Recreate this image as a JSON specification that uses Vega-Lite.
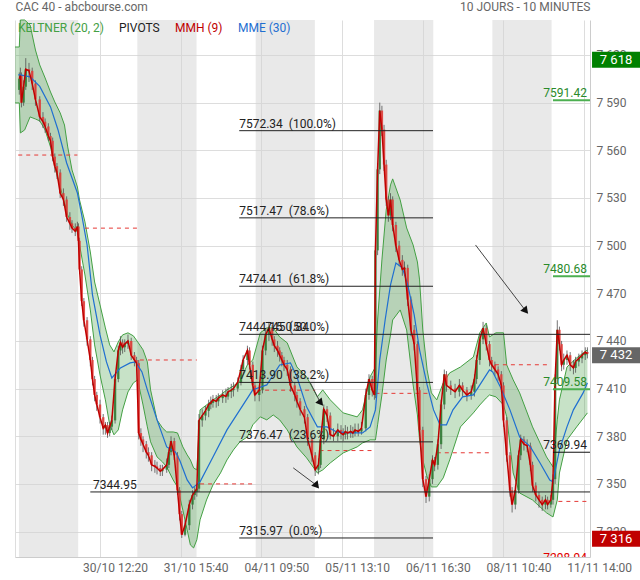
{
  "$schema": "https://vega.github.io/schema/vega-lite/v6.json",
  "width": 575,
  "height": 537,
  "autosize": "none",
  "padding": {"left": 15, "top": 20, "right": 50, "bottom": 23},
  "background": "#ffffff",
  "config": {"view": {"stroke": null}, "font": "Roboto"},
  "datasets": {
    "days": [{"n1":-0.3,"n2":54.7},{"n1":109.7,"n2":164.7},{"n1":219.7,"n2":274.7},{"n1":329.7,"n2":384.7},{"n1":439.7,"n2":494.7}],
    "band": [
      {"n":-4,"ku":7625.0,"kl":7589.8},{"n":0,"ku":7625.0,"kl":7589.8},{"n":1,"ku":7642.0,"kl":7570.9},{"n":5,"ku":7642.0,"kl":7572.8},
      {"n":10,"ku":7638.9,"kl":7581.0},{"n":15,"ku":7623.1,"kl":7579.7},{"n":19,"ku":7613.7,"kl":7578.5},{"n":24,"ku":7605.5,"kl":7572.8},
      {"n":29,"ku":7596.7,"kl":7562.1},{"n":33,"ku":7590.4,"kl":7549.5},{"n":38,"ku":7583.5,"kl":7536.9},{"n":42,"ku":7575.9,"kl":7526.9},
      {"n":45,"ku":7562.1,"kl":7519.3},{"n":49,"ku":7547.6,"kl":7513.0},{"n":54,"ku":7536.9,"kl":7508.6},{"n":56,"ku":7528.7,"kl":7500.4},
      {"n":61,"ku":7514.9,"kl":7481.5},{"n":66,"ku":7496.0,"kl":7459.5},{"n":70,"ku":7477.1,"kl":7437.5},{"n":75,"ku":7462.7,"kl":7418.6},
      {"n":80,"ku":7448.2,"kl":7402.9},{"n":84,"ku":7437.5,"kl":7387.2},{"n":88,"ku":7433.1,"kl":7380.9},{"n":92,"ku":7439.4,"kl":7384.0},
      {"n":96,"ku":7443.8,"kl":7396.6},{"n":101,"ku":7445.1,"kl":7407.9},{"n":106,"ku":7443.2,"kl":7413.6},{"n":110,"ku":7439.4,"kl":7415.5},
      {"n":115,"ku":7434.4,"kl":7399.7},{"n":119,"ku":7426.8,"kl":7385.9},{"n":122,"ku":7409.2,"kl":7376.5},{"n":128,"ku":7390.3,"kl":7367.0},
      {"n":133,"ku":7385.3,"kl":7363.9},{"n":137,"ku":7382.7,"kl":7360.7},{"n":143,"ku":7382.7,"kl":7352.5},{"n":147,"ku":7382.1,"kl":7348.1},
      {"n":152,"ku":7373.3,"kl":7333.5},{"n":156,"ku":7368.3,"kl":7321.1},{"n":159,"ku":7365.1,"kl":7311.6},{"n":162,"ku":7360.1,"kl":7309.7},
      {"n":165,"ku":7358.8,"kl":7314.8},{"n":168,"ku":7396.6,"kl":7327.4},{"n":174,"ku":7399.7,"kl":7339.9},{"n":180,"ku":7402.9,"kl":7349.4},
      {"n":187,"ku":7406.0,"kl":7356.9},{"n":193,"ku":7409.2,"kl":7365.1},{"n":199,"ku":7411.7,"kl":7371.4},{"n":205,"ku":7414.8,"kl":7376.5},
      {"n":212,"ku":7425.0,"kl":7379.6},{"n":217,"ku":7428.0,"kl":7387.2},{"n":224,"ku":7445.1,"kl":7392.2},{"n":230,"ku":7448.2,"kl":7390.3},
      {"n":236,"ku":7448.2,"kl":7393.4},{"n":242,"ku":7442.5,"kl":7390.3},{"n":249,"ku":7438.8,"kl":7384.0},{"n":258,"ku":7423.6,"kl":7373.3},
      {"n":267,"ku":7417.4,"kl":7366.4},{"n":277,"ku":7404.8,"kl":7356.9},{"n":282,"ku":7409.2,"kl":7358.8},{"n":289,"ku":7402.9,"kl":7363.2},
      {"n":301,"ku":7394.7,"kl":7369.5},{"n":314,"ku":7392.2,"kl":7373.3},{"n":319,"ku":7396.6,"kl":7375.8},{"n":326,"ku":7417.4,"kl":7377.7},
      {"n":331,"ku":7423.6,"kl":7377.7},{"n":333,"ku":7453.2,"kl":7387.2},{"n":337,"ku":7491.0,"kl":7406.0},{"n":341,"ku":7522.5,"kl":7428.0},
      {"n":345,"ku":7538.2,"kl":7443.8},{"n":347,"ku":7542.0,"kl":7453.2},{"n":354,"ku":7528.7,"kl":7459.5},{"n":360,"ku":7511.1,"kl":7446.9},
      {"n":366,"ku":7500.4,"kl":7412.3},{"n":370,"ku":7489.7,"kl":7393.4},{"n":372,"ku":7478.4,"kl":7377.7},{"n":375,"ku":7446.9,"kl":7365.1},
      {"n":379,"ku":7421.8,"kl":7354.4},{"n":383,"ku":7407.3,"kl":7348.1},{"n":388,"ku":7402.9,"kl":7348.1},{"n":394,"ku":7413.6,"kl":7353.8},
      {"n":400,"ku":7419.9,"kl":7365.1},{"n":410,"ku":7423.6,"kl":7385.9},{"n":422,"ku":7429.9,"kl":7394.7},{"n":428,"ku":7445.1,"kl":7399.7},
      {"n":434,"ku":7451.3,"kl":7404.1},{"n":437,"ku":7442.5,"kl":7406.0},{"n":443,"ku":7445.1,"kl":7404.8},{"n":450,"ku":7445.1,"kl":7399.7},
      {"n":453,"ku":7424.9,"kl":7392.2},{"n":459,"ku":7415.5,"kl":7356.9},{"n":465,"ku":7407.3,"kl":7344.3},{"n":477,"ku":7385.9,"kl":7339.9},
      {"n":490,"ku":7367.0,"kl":7331.8},{"n":496,"ku":7360.7,"kl":7329.2},{"n":500,"ku":7390.3,"kl":7339.9},{"n":502,"ku":7402.9,"kl":7356.9},
      {"n":509,"ku":7423.6,"kl":7377.7},{"n":518,"ku":7429.3,"kl":7385.9},{"n":528,"ku":7434.4,"kl":7394.7}
    ],
    "mme": [
      {"n":-1,"e":7607.4},{"n":1,"e":7607.4},{"n":10,"e":7606.2},{"n":19,"e":7600.2},{"n":29,"e":7587.3},{"n":36,"e":7572.8},{"n":44,"e":7552.0},
      {"n":54,"e":7533.1},{"n":58,"e":7519.3},{"n":63,"e":7500.4},{"n":68,"e":7469.0},{"n":75,"e":7443.8},{"n":81,"e":7426.8},{"n":86,"e":7416.7},
      {"n":94,"e":7423.0},{"n":103,"e":7426.2},{"n":108,"e":7426.8},{"n":114,"e":7420.5},{"n":119,"e":7409.2},{"n":128,"e":7390.3},{"n":137,"e":7373.3},
      {"n":145,"e":7370.2},{"n":149,"e":7365.1},{"n":156,"e":7352.5},{"n":161,"e":7347.5},{"n":168,"e":7351.3},{"n":180,"e":7367.0},{"n":193,"e":7384.0},
      {"n":205,"e":7396.6},{"n":217,"e":7409.2},{"n":230,"e":7412.3},{"n":242,"e":7424.9},{"n":252,"e":7426.2},{"n":258,"e":7417.4},{"n":267,"e":7398.5},
      {"n":277,"e":7385.9},{"n":286,"e":7385.9},{"n":295,"e":7382.7},{"n":307,"e":7382.1},{"n":319,"e":7382.1},{"n":326,"e":7385.9},{"n":331,"e":7396.6},
      {"n":335,"e":7428.0},{"n":340,"e":7453.2},{"n":345,"e":7475.3},{"n":350,"e":7489.1},{"n":356,"e":7486.0},{"n":361,"e":7475.3},{"n":367,"e":7456.4},
      {"n":372,"e":7434.4},{"n":379,"e":7412.3},{"n":385,"e":7396.6},{"n":391,"e":7387.2},{"n":397,"e":7387.2},{"n":403,"e":7396.6},{"n":412,"e":7404.8},
      {"n":422,"e":7406.0},{"n":431,"e":7415.5},{"n":437,"e":7421.8},{"n":440,"e":7420.5},{"n":447,"e":7411.1},{"n":456,"e":7396.6},{"n":465,"e":7379.6},
      {"n":475,"e":7373.3},{"n":484,"e":7363.2},{"n":493,"e":7352.5},{"n":496,"e":7351.3},{"n":502,"e":7371.4},{"n":509,"e":7385.9},{"n":515,"e":7396.6},
      {"n":524,"e":7407.3},{"n":528,"e":7413.6}
    ],
    "candles": [
      {"n":0,"o":7598,"h":7609,"l":7595,"c":7605},{"n":1,"o":7605,"h":7612,"l":7600,"c":7607},{"n":2,"o":7607,"h":7609,"l":7587,"c":7590},
      {"n":4,"o":7590,"h":7604,"l":7588,"c":7600},{"n":6,"o":7600,"h":7618,"l":7598,"c":7611},{"n":9,"o":7611,"h":7615,"l":7603,"c":7610},
      {"n":12,"o":7610,"h":7612,"l":7598,"c":7602},{"n":15,"o":7602,"h":7604,"l":7588,"c":7592},{"n":19,"o":7592,"h":7594,"l":7578,"c":7581},
      {"n":22,"o":7581,"h":7584,"l":7574,"c":7578},{"n":24,"o":7578,"h":7580,"l":7571,"c":7575},{"n":27,"o":7575,"h":7577,"l":7566,"c":7569},
      {"n":29,"o":7569,"h":7571,"l":7562,"c":7566},{"n":31,"o":7566,"h":7568,"l":7553,"c":7556},{"n":33,"o":7556,"h":7558,"l":7546,"c":7550},
      {"n":35,"o":7550,"h":7552,"l":7542,"c":7546},{"n":38,"o":7546,"h":7548,"l":7530,"c":7533},{"n":41,"o":7533,"h":7536,"l":7525,"c":7529},
      {"n":44,"o":7529,"h":7531,"l":7515,"c":7518},{"n":47,"o":7518,"h":7521,"l":7510,"c":7514},{"n":49,"o":7514,"h":7516,"l":7508,"c":7511},
      {"n":52,"o":7511,"h":7514,"l":7506,"c":7509},{"n":54,"o":7509,"h":7515,"l":7507,"c":7512},{"n":55,"o":7512,"h":7514,"l":7500,"c":7503},
      {"n":56,"o":7503,"h":7505,"l":7482,"c":7485},{"n":58,"o":7485,"h":7487,"l":7462,"c":7465},{"n":60,"o":7465,"h":7467,"l":7449,"c":7453},
      {"n":63,"o":7453,"h":7455,"l":7437,"c":7441},{"n":66,"o":7441,"h":7443,"l":7424,"c":7428},{"n":68,"o":7428,"h":7430,"l":7412,"c":7416},
      {"n":70,"o":7416,"h":7418,"l":7402,"c":7406},{"n":72,"o":7406,"h":7408,"l":7396,"c":7400},{"n":75,"o":7400,"h":7403,"l":7388,"c":7392},
      {"n":78,"o":7392,"h":7394,"l":7381,"c":7385},{"n":80,"o":7385,"h":7389,"l":7381,"c":7387},{"n":82,"o":7387,"h":7389,"l":7379,"c":7382},
      {"n":84,"o":7382,"h":7389,"l":7380,"c":7386},{"n":86,"o":7386,"h":7393,"l":7384,"c":7390},{"n":89,"o":7390,"h":7419,"l":7388,"c":7416},
      {"n":92,"o":7416,"h":7437,"l":7414,"c":7434},{"n":94,"o":7434,"h":7443,"l":7431,"c":7439},{"n":96,"o":7439,"h":7441,"l":7432,"c":7436},
      {"n":98,"o":7436,"h":7441,"l":7433,"c":7438},{"n":101,"o":7438,"h":7444,"l":7435,"c":7440},{"n":104,"o":7440,"h":7442,"l":7428,"c":7431},
      {"n":107,"o":7431,"h":7433,"l":7424,"c":7428},{"n":109,"o":7428,"h":7430,"l":7423,"c":7426},{"n":111,"o":7426,"h":7428,"l":7378,"c":7382},
      {"n":113,"o":7382,"h":7385,"l":7374,"c":7378},{"n":115,"o":7378,"h":7380,"l":7370,"c":7375},{"n":118,"o":7375,"h":7377,"l":7366,"c":7370},
      {"n":120,"o":7370,"h":7373,"l":7364,"c":7368},{"n":123,"o":7368,"h":7370,"l":7358,"c":7362},{"n":126,"o":7362,"h":7365,"l":7357,"c":7361},
      {"n":128,"o":7361,"h":7364,"l":7356,"c":7360},{"n":131,"o":7360,"h":7362,"l":7355,"c":7358},{"n":133,"o":7358,"h":7362,"l":7355,"c":7359},
      {"n":137,"o":7359,"h":7366,"l":7357,"c":7362},{"n":139,"o":7362,"h":7373,"l":7360,"c":7370},{"n":141,"o":7370,"h":7380,"l":7368,"c":7377},
      {"n":144,"o":7377,"h":7379,"l":7365,"c":7368},{"n":147,"o":7368,"h":7370,"l":7343,"c":7346},{"n":149,"o":7346,"h":7348,"l":7327,"c":7331},
      {"n":151,"o":7331,"h":7333,"l":7316,"c":7318},{"n":154,"o":7318,"h":7327,"l":7317,"c":7324},{"n":158,"o":7324,"h":7340,"l":7321,"c":7337},
      {"n":161,"o":7337,"h":7346,"l":7334,"c":7343},{"n":163,"o":7343,"h":7348,"l":7340,"c":7345},{"n":165,"o":7345,"h":7350,"l":7342,"c":7347},
      {"n":167,"o":7347,"h":7394,"l":7345,"c":7390},{"n":170,"o":7390,"h":7397,"l":7386,"c":7393},{"n":173,"o":7393,"h":7399,"l":7390,"c":7396},
      {"n":176,"o":7396,"h":7403,"l":7392,"c":7400},{"n":178,"o":7400,"h":7405,"l":7397,"c":7401},{"n":180,"o":7401,"h":7406,"l":7398,"c":7403},
      {"n":183,"o":7403,"h":7406,"l":7398,"c":7402},{"n":185,"o":7402,"h":7407,"l":7399,"c":7404},{"n":189,"o":7404,"h":7409,"l":7401,"c":7406},
      {"n":192,"o":7406,"h":7410,"l":7401,"c":7405},{"n":194,"o":7405,"h":7411,"l":7403,"c":7408},{"n":197,"o":7408,"h":7413,"l":7404,"c":7409},
      {"n":199,"o":7409,"h":7414,"l":7405,"c":7410},{"n":203,"o":7410,"h":7417,"l":7408,"c":7414},{"n":206,"o":7414,"h":7425,"l":7412,"c":7422},
      {"n":208,"o":7422,"h":7431,"l":7419,"c":7428},{"n":212,"o":7428,"h":7437,"l":7425,"c":7434},{"n":214,"o":7434,"h":7436,"l":7422,"c":7425},
      {"n":217,"o":7425,"h":7427,"l":7409,"c":7412},{"n":219,"o":7412,"h":7414,"l":7402,"c":7406},{"n":223,"o":7406,"h":7412,"l":7402,"c":7409},
      {"n":226,"o":7409,"h":7437,"l":7407,"c":7434},{"n":229,"o":7434,"h":7448,"l":7431,"c":7444},{"n":232,"o":7444,"h":7452,"l":7440,"c":7448},
      {"n":235,"o":7448,"h":7450,"l":7437,"c":7441},{"n":237,"o":7441,"h":7443,"l":7433,"c":7437},{"n":240,"o":7437,"h":7440,"l":7430,"c":7434},
      {"n":242,"o":7434,"h":7436,"l":7427,"c":7431},{"n":244,"o":7431,"h":7433,"l":7424,"c":7428},{"n":246,"o":7428,"h":7430,"l":7421,"c":7425},
      {"n":249,"o":7425,"h":7428,"l":7418,"c":7422},{"n":252,"o":7422,"h":7424,"l":7408,"c":7412},{"n":256,"o":7412,"h":7414,"l":7402,"c":7406},
      {"n":258,"o":7406,"h":7408,"l":7398,"c":7402},{"n":261,"o":7402,"h":7404,"l":7393,"c":7397},{"n":265,"o":7397,"h":7399,"l":7388,"c":7392},
      {"n":268,"o":7392,"h":7394,"l":7374,"c":7378},{"n":272,"o":7378,"h":7380,"l":7364,"c":7368},{"n":275,"o":7368,"h":7370,"l":7355,"c":7359},
      {"n":278,"o":7359,"h":7366,"l":7356,"c":7362},{"n":280,"o":7362,"h":7381,"l":7360,"c":7378},{"n":283,"o":7378,"h":7400,"l":7375,"c":7397},
      {"n":286,"o":7397,"h":7399,"l":7389,"c":7393},{"n":289,"o":7393,"h":7395,"l":7378,"c":7381},{"n":292,"o":7381,"h":7385,"l":7377,"c":7380},
      {"n":296,"o":7380,"h":7388,"l":7377,"c":7384},{"n":299,"o":7384,"h":7387,"l":7378,"c":7382},{"n":301,"o":7382,"h":7385,"l":7377,"c":7381},
      {"n":303,"o":7381,"h":7387,"l":7378,"c":7383},{"n":305,"o":7383,"h":7386,"l":7378,"c":7382},{"n":308,"o":7382,"h":7387,"l":7379,"c":7383},
      {"n":310,"o":7383,"h":7386,"l":7379,"c":7382},{"n":312,"o":7382,"h":7388,"l":7380,"c":7384},{"n":315,"o":7384,"h":7388,"l":7380,"c":7383},
      {"n":318,"o":7383,"h":7389,"l":7381,"c":7385},{"n":322,"o":7385,"h":7410,"l":7383,"c":7406},{"n":325,"o":7406,"h":7419,"l":7403,"c":7416},
      {"n":328,"o":7416,"h":7418,"l":7405,"c":7409},{"n":330,"o":7409,"h":7411,"l":7403,"c":7406},{"n":331,"o":7406,"h":7500,"l":7404,"c":7497},
      {"n":333,"o":7497,"h":7552,"l":7494,"c":7548},{"n":335,"o":7548,"h":7590,"l":7545,"c":7585},{"n":337,"o":7585,"h":7588,"l":7569,"c":7573},
      {"n":339,"o":7573,"h":7576,"l":7547,"c":7551},{"n":341,"o":7551,"h":7554,"l":7525,"c":7529},{"n":343,"o":7529,"h":7531,"l":7515,"c":7519},
      {"n":345,"o":7519,"h":7533,"l":7516,"c":7529},{"n":347,"o":7529,"h":7531,"l":7509,"c":7513},{"n":350,"o":7513,"h":7515,"l":7496,"c":7500},
      {"n":353,"o":7500,"h":7503,"l":7487,"c":7491},{"n":356,"o":7491,"h":7494,"l":7481,"c":7485},{"n":358,"o":7485,"h":7490,"l":7481,"c":7486},
      {"n":361,"o":7486,"h":7488,"l":7462,"c":7466},{"n":364,"o":7466,"h":7468,"l":7443,"c":7447},{"n":367,"o":7447,"h":7450,"l":7434,"c":7438},
      {"n":370,"o":7438,"h":7440,"l":7405,"c":7409},{"n":372,"o":7409,"h":7411,"l":7380,"c":7384},{"n":375,"o":7384,"h":7386,"l":7348,"c":7353},
      {"n":378,"o":7353,"h":7355,"l":7338,"c":7342},{"n":381,"o":7342,"h":7356,"l":7339,"c":7353},{"n":384,"o":7353,"h":7368,"l":7350,"c":7365},
      {"n":386,"o":7365,"h":7367,"l":7358,"c":7362},{"n":389,"o":7362,"h":7378,"l":7359,"c":7375},{"n":392,"o":7375,"h":7403,"l":7372,"c":7400},
      {"n":395,"o":7400,"h":7422,"l":7397,"c":7419},{"n":397,"o":7419,"h":7421,"l":7408,"c":7412},{"n":401,"o":7412,"h":7415,"l":7406,"c":7410},
      {"n":405,"o":7410,"h":7413,"l":7404,"c":7408},{"n":409,"o":7408,"h":7416,"l":7405,"c":7412},{"n":412,"o":7412,"h":7414,"l":7405,"c":7409},
      {"n":416,"o":7409,"h":7411,"l":7402,"c":7406},{"n":420,"o":7406,"h":7412,"l":7403,"c":7408},{"n":423,"o":7408,"h":7419,"l":7405,"c":7416},
      {"n":425,"o":7416,"h":7431,"l":7413,"c":7428},{"n":428,"o":7428,"h":7444,"l":7425,"c":7441},{"n":431,"o":7441,"h":7452,"l":7438,"c":7448},
      {"n":434,"o":7448,"h":7450,"l":7434,"c":7438},{"n":437,"o":7438,"h":7440,"l":7424,"c":7428},{"n":439,"o":7428,"h":7430,"l":7421,"c":7425},
      {"n":442,"o":7425,"h":7427,"l":7418,"c":7422},{"n":445,"o":7422,"h":7424,"l":7415,"c":7419},{"n":448,"o":7419,"h":7421,"l":7408,"c":7412},
      {"n":450,"o":7412,"h":7414,"l":7386,"c":7390},{"n":453,"o":7390,"h":7392,"l":7364,"c":7368},{"n":456,"o":7368,"h":7370,"l":7342,"c":7346},
      {"n":458,"o":7346,"h":7348,"l":7332,"c":7337},{"n":461,"o":7337,"h":7349,"l":7334,"c":7346},{"n":464,"o":7346,"h":7371,"l":7344,"c":7368},
      {"n":466,"o":7368,"h":7381,"l":7365,"c":7378},{"n":469,"o":7378,"h":7380,"l":7371,"c":7375},{"n":472,"o":7375,"h":7378,"l":7370,"c":7374},
      {"n":475,"o":7374,"h":7376,"l":7358,"c":7362},{"n":477,"o":7362,"h":7364,"l":7345,"c":7349},{"n":480,"o":7349,"h":7351,"l":7339,"c":7343},
      {"n":483,"o":7343,"h":7345,"l":7335,"c":7340},{"n":486,"o":7340,"h":7342,"l":7333,"c":7337},{"n":489,"o":7337,"h":7343,"l":7334,"c":7340},
      {"n":491,"o":7340,"h":7342,"l":7334,"c":7337},{"n":494,"o":7337,"h":7343,"l":7335,"c":7340},{"n":496,"o":7340,"h":7356,"l":7337,"c":7353},
      {"n":498,"o":7353,"h":7419,"l":7350,"c":7416},{"n":500,"o":7416,"h":7453,"l":7413,"c":7447},{"n":502,"o":7447,"h":7449,"l":7434,"c":7438},
      {"n":504,"o":7438,"h":7440,"l":7421,"c":7425},{"n":506,"o":7425,"h":7432,"l":7422,"c":7428},{"n":509,"o":7428,"h":7434,"l":7425,"c":7431},
      {"n":512,"o":7431,"h":7433,"l":7421,"c":7425},{"n":515,"o":7425,"h":7428,"l":7419,"c":7423},{"n":517,"o":7423,"h":7430,"l":7420,"c":7427},
      {"n":520,"o":7427,"h":7432,"l":7424,"c":7429},{"n":523,"o":7429,"h":7434,"l":7426,"c":7431},{"n":526,"o":7431,"h":7436,"l":7428,"c":7433},
      {"n":528,"o":7433,"h":7436,"l":7429,"c":7432}
    ],
    "prev": [
      {"n1":-1,"n2":54,"p":7557},{"n1":61,"n2":110,"p":7511},{"n1":112,"n2":165,"p":7428},{"n1":168,"n2":219,"p":7350},
      {"n1":221,"n2":275,"p":7409},{"n1":279,"n2":330,"p":7371},{"n1":331,"n2":382,"p":7407},{"n1":388,"n2":439,"p":7369.6},
      {"n1":442,"n2":493,"p":7425},{"n1":501,"n2":528,"p":7339}
    ],
    "fib": [
      {"n1":204.4,"n2":384.5,"p":7572.34},{"n1":204.4,"n2":384.5,"p":7517.47},{"n1":204.4,"n2":384.5,"p":7474.41},
      {"n1":204.4,"n2":530.4,"p":7444.15},{"n1":204.4,"n2":384.5,"p":7413.90},{"n1":204.4,"n2":384.5,"p":7376.47},
      {"n1":204.4,"n2":384.5,"p":7315.97},{"n1":66,"n2":530.4,"p":7344.95}
    ],
    "fibtext": [
      {"n":204.4,"p":7572.34,"t":"7572.34\u00a0\u00a0(100.0%)"},{"n":204.4,"p":7517.47,"t":"7517.47\u00a0\u00a0(78.6%)"},
      {"n":204.4,"p":7474.41,"t":"7474.41\u00a0\u00a0(61.8%)"},{"n":204.4,"p":7444.15,"t":"7444.15\u00a0\u00a0(50.0%)"},
      {"n":228.6,"p":7444.15,"t":"7450.84"},{"n":204.4,"p":7413.90,"t":"7413.90\u00a0\u00a0(38.2%)"},
      {"n":204.4,"p":7376.47,"t":"7376.47\u00a0\u00a0(23.6%)"},{"n":204.4,"p":7315.97,"t":"7315.97\u00a0\u00a0(0.0%)"},
      {"n":68.5,"p":7344.95,"t":"7344.95"}
    ],
    "piv": [
      {"n1":496,"n2":530.4,"p":7591.42,"k":"g","t":"7591.42"},{"n1":496,"n2":530.4,"p":7480.68,"k":"g","t":"7480.68"},
      {"n1":496,"n2":530.4,"p":7409.58,"k":"g","t":"7409.58"},{"n1":496,"n2":530.4,"p":7369.94,"k":"b","t":"7369.94"},
      {"n1":496,"n2":530.4,"p":7298.94,"k":"r","t":"7298.94"}
    ],
    "arrows": [
      {"n1":424,"p1":7500.4,"n2":470,"p2":7459.5},{"n1":254.6,"p1":7360.1,"n2":275.7,"p2":7349.4},{"n1":270.5,"p1":7413.6,"n2":279.5,"p2":7401.6}
    ],
    "boxes": [
      {"p":7617,"k":"max","t":"7 618"},{"p":7431,"k":"last","t":"7 432"},{"p":7315.5,"k":"min","t":"7 316"}
    ]
  },
  "layer": [
    {
      "data": {"name": "days"},
      "mark": {"type": "rect", "color": "#d4d4d4", "opacity": 0.5},
      "encoding": {
        "x": {"field": "n1", "type": "quantitative", "scale": {"domain": [-4, 530.4], "nice": false, "zero": false},
          "axis": {"orient": "top", "values": [-4, 530.4], "labelExpr": "datum.value < 0 ? 'CAC 40 - abcbourse.com' : '10 JOURS - 10 MINUTES'",
            "labelFlush": true, "labelOverlap": false, "grid": false, "ticks": false, "domain": false, "labelPadding": 7,
            "labelFontSize": 12, "labelColor": "#666666", "labelFont": "Roboto", "title": null}},
        "x2": {"field": "n2"}
      }
    },
    {
      "layer": [
        {
          "data": {"name": "band"},
          "mark": {"type": "area", "fillOpacity": 0.3},
          "encoding": {
            "x": {"field": "n", "type": "quantitative", "scale": {"domain": [-4, 530.4], "nice": false, "zero": false},
              "axis": {"values": [-4, 75, 150, 225, 300, 375, 450, 525],
                "labelExpr": "datum.value == 75 ? '30/10 12:20' : datum.value == 150 ? '31/10 15:40' : datum.value == 225 ? '04/11 09:50' : datum.value == 300 ? '05/11 13:10' : datum.value == 375 ? '06/11 16:30' : datum.value == 450 ? '08/11 10:40' : datum.value == 525 ? '11/11 14:00' : ''",
                "grid": true, "gridColor": "#dddddd", "ticks": false, "domainColor": "#cccccc", "labelColor": "#666666", "labelFontSize": 12,
                "labelFont": "Roboto", "labelPadding": 5, "labelOffset": 15, "labelFlush": false, "labelOverlap": false, "title": null}},
            "y": {"field": "ku", "type": "quantitative", "scale": {"domain": [7304, 7642], "nice": false, "zero": false},
              "axis": {"orient": "right", "values": [7320, 7350, 7380, 7410, 7440, 7470, 7500, 7530, 7560, 7590, 7620],
                "labelExpr": "replace(format(datum.value, ','), ',', ' ')", "grid": true, "gridColor": "#dddddd", "ticks": false,
                "domainColor": "#cccccc", "labelColor": "#666666", "labelFontSize": 12, "labelFont": "Roboto", "labelPadding": 6,
                "labelFlush": false, "title": null}},
            "y2": {"field": "kl"},
            "color": {"datum": "KELTNER (20, 2)", "type": "nominal",
              "scale": {"domain": ["KELTNER (20, 2)", "PIVOTS", "MMH (9)", "MME (30)"], "range": ["#44a044", "#222222", "#c00000", "#1f6fd1"]},
              "legend": {"orient": "top-left", "direction": "horizontal", "title": null, "offset": 2, "padding": 0,
                "symbolSize": 0, "symbolOpacity": 0, "symbolStrokeWidth": 0, "labelOffset": -11, "columnPadding": 14,
                "labelFontSize": 12, "labelFont": "Roboto", "labelColor": {"expr": "scale('color', datum.value)"}}}
          }
        },
        {
          "data": {"name": "band"},
          "mark": {"type": "line", "strokeWidth": 1},
          "encoding": {
            "x": {"field": "n", "type": "quantitative"},
            "y": {"field": "ku", "type": "quantitative"},
            "color": {"datum": "KELTNER (20, 2)", "type": "nominal"}
          }
        },
        {
          "data": {"name": "band"},
          "mark": {"type": "line", "strokeWidth": 1},
          "encoding": {
            "x": {"field": "n", "type": "quantitative"},
            "y": {"field": "kl", "type": "quantitative"},
            "color": {"datum": "KELTNER (20, 2)", "type": "nominal"}
          }
        },
        {
          "data": {"name": "prev"},
          "mark": {"type": "rule", "color": "#e53935", "strokeWidth": 1, "strokeDash": [4, 4]},
          "encoding": {
            "x": {"field": "n1", "type": "quantitative"},
            "x2": {"field": "n2"},
            "y": {"field": "p", "type": "quantitative"}
          }
        },
        {
          "data": {"name": "candles"},
          "mark": {"type": "rule", "color": "#505050", "strokeWidth": 0.8},
          "encoding": {
            "x": {"field": "n", "type": "quantitative"},
            "y": {"field": "l", "type": "quantitative"},
            "y2": {"field": "h"}
          }
        },
        {
          "data": {"name": "candles"},
          "mark": {"type": "rule", "strokeWidth": 2.4, "opacity": 0.85},
          "encoding": {
            "x": {"field": "n", "type": "quantitative"},
            "y": {"field": "o", "type": "quantitative"},
            "y2": {"field": "c"},
            "color": {"condition": {"test": "datum.c >= datum.o", "value": "#2e7d32"}, "value": "#e53935"}
          }
        },
        {
          "data": {"name": "mme"},
          "mark": {"type": "line", "strokeWidth": 1.2},
          "encoding": {
            "x": {"field": "n", "type": "quantitative"},
            "y": {"field": "e", "type": "quantitative"},
            "color": {"datum": "MME (30)", "type": "nominal"}
          }
        },
        {
          "data": {"name": "candles"},
          "mark": {"type": "line", "strokeWidth": 1.5},
          "encoding": {
            "x": {"field": "n", "type": "quantitative"},
            "y": {"field": "c", "type": "quantitative"},
            "color": {"datum": "MMH (9)", "type": "nominal"}
          }
        },
        {
          "data": {"name": "fib"},
          "mark": {"type": "rule", "strokeWidth": 1},
          "encoding": {
            "x": {"field": "n1", "type": "quantitative"},
            "x2": {"field": "n2"},
            "y": {"field": "p", "type": "quantitative"},
            "color": {"datum": "PIVOTS", "type": "nominal"}
          }
        },
        {
          "data": {"name": "fibtext"},
          "mark": {"type": "text", "align": "left", "baseline": "alphabetic", "dy": -3, "fontSize": 12, "font": "Roboto", "color": "#222222"},
          "encoding": {
            "x": {"field": "n", "type": "quantitative"},
            "y": {"field": "p", "type": "quantitative"},
            "text": {"field": "t"}
          }
        },
        {
          "data": {"name": "piv"},
          "mark": {"type": "rule", "clip": true},
          "encoding": {
            "x": {"field": "n1", "type": "quantitative"},
            "x2": {"field": "n2"},
            "y": {"field": "p", "type": "quantitative"},
            "color": {"condition": [{"test": "datum.k == 'g'", "value": "#4caf50"}, {"test": "datum.k == 'r'", "value": "#e00000"}], "value": "#111111"},
            "strokeWidth": {"condition": {"test": "datum.k == 'g'", "value": 2}, "value": 1}
          }
        },
        {
          "data": {"name": "piv"},
          "mark": {"type": "text", "align": "right", "baseline": "alphabetic", "dy": -3, "dx": -3, "fontSize": 12, "font": "Roboto", "clip": true},
          "encoding": {
            "x": {"field": "n2", "type": "quantitative"},
            "y": {"field": "p", "type": "quantitative"},
            "text": {"field": "t"},
            "color": {"condition": [{"test": "datum.k == 'g'", "value": "#2a8a2a"}, {"test": "datum.k == 'r'", "value": "#e00000"}], "value": "#222222"}
          }
        },
        {
          "data": {"name": "arrows"},
          "mark": {"type": "rule", "color": "#444444", "strokeWidth": 1},
          "encoding": {
            "x": {"field": "n1", "type": "quantitative"},
            "y": {"field": "p1", "type": "quantitative"},
            "x2": {"field": "n2"},
            "y2": {"field": "p2"}
          }
        },
        {
          "data": {"name": "arrows"},
          "mark": {"type": "point", "shape": "triangle", "filled": true, "color": "#111111", "size": 70, "angle": 140, "opacity": 1},
          "encoding": {
            "x": {"field": "n2", "type": "quantitative"},
            "y": {"field": "p2", "type": "quantitative"}
          }
        },
        {
          "data": {"name": "boxes"},
          "mark": {"type": "tick", "orient": "horizontal", "thickness": 16, "size": 48, "opacity": 1},
          "encoding": {
            "x": {"datum": 554.6, "type": "quantitative"},
            "y": {"field": "p", "type": "quantitative"},
            "color": {"condition": [{"test": "datum.k == 'max'", "value": "#008000"}, {"test": "datum.k == 'min'", "value": "#c00000"}], "value": "#666666"}
          }
        },
        {
          "data": {"name": "boxes"},
          "mark": {"type": "text", "color": "#ffffff", "fontSize": 13, "font": "Roboto", "align": "center", "baseline": "middle"},
          "encoding": {
            "x": {"datum": 554.6, "type": "quantitative"},
            "y": {"field": "p", "type": "quantitative"},
            "text": {"field": "t"}
          }
        }
      ]
    }
  ],
  "resolve": {"axis": {"x": "independent"}}
}
